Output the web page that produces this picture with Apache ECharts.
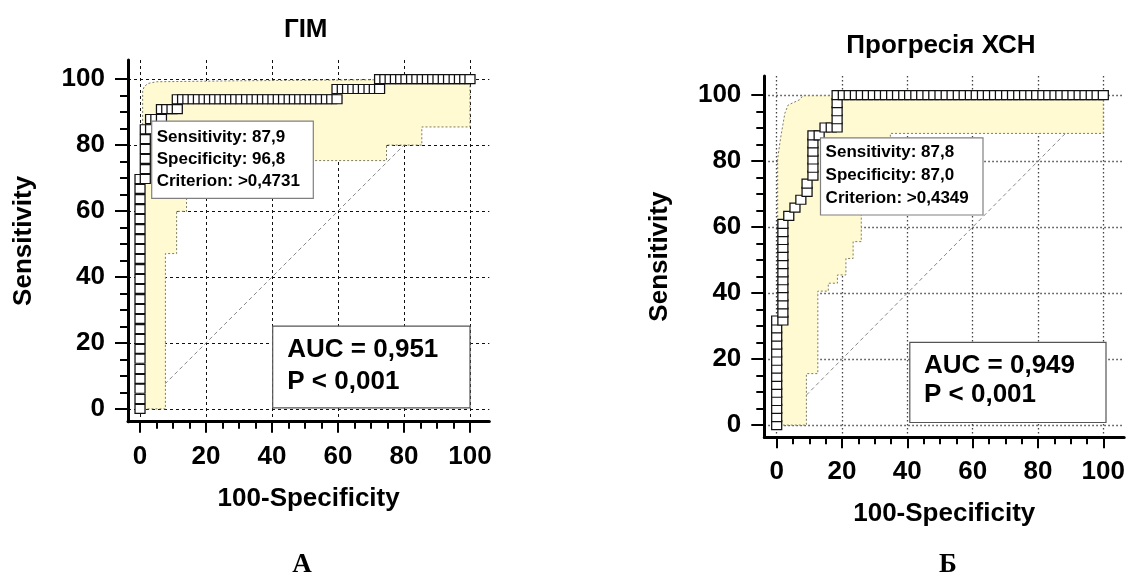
<!DOCTYPE html>
<html>
<head>
<meta charset="utf-8">
<script src="https://cdn.jsdelivr.net/npm/echarts@6/dist/echarts.min.js"></script>
<style>
  html, body { margin: 0; padding: 0; background: #fff; }
  #chart { width: 1128px; height: 576px; }
</style>
</head>
<body>
<div id="chart"></div>
<script>
// DATA

const ticksMajor = [0, 20, 40, 60, 80, 100];
const ticksMinor = [0, 5, 10, 15, 20, 25, 30, 35, 40, 45, 50, 55, 60, 65, 70, 75, 80, 85, 90, 95, 100];
const diagonal = [[0, 0], [100, 100]];

// A: ГІМ  (100-Specificity, Sensitivity)
const rocA = [
  [0,0],[0,3.0],[0,6.1],[0,9.1],[0,12.1],[0,15.2],[0,18.2],[0,21.2],[0,24.2],[0,27.3],[0,30.3],[0,33.3],
  [0,36.4],[0,39.4],[0,42.4],[0,45.5],[0,48.5],[0,51.5],[0,54.5],[0,57.6],[0,60.6],[0,63.6],[0,66.7],[0,69.7],
  [1.6,69.7],[1.6,72.7],[1.6,75.8],[1.6,78.8],[1.6,81.8],[1.6,84.8],
  [3.2,84.8],[3.2,87.9],[4.8,87.9],[6.5,87.9],
  [6.5,90.9],[8.1,90.9],[9.7,90.9],[11.3,90.9],
  [11.3,93.9],[12.9,93.9],[14.5,93.9],[16.1,93.9],[17.7,93.9],[19.4,93.9],[21.0,93.9],[22.6,93.9],[24.2,93.9],
  [25.8,93.9],[27.4,93.9],[29.0,93.9],[30.6,93.9],[32.3,93.9],[33.9,93.9],[35.5,93.9],[37.1,93.9],[38.7,93.9],
  [40.3,93.9],[41.9,93.9],[43.5,93.9],[45.2,93.9],[46.8,93.9],[48.4,93.9],[50.0,93.9],[51.6,93.9],[53.2,93.9],
  [54.8,93.9],[56.5,93.9],[58.1,93.9],[59.7,93.9],
  [59.7,97.0],[61.3,97.0],[62.9,97.0],[64.5,97.0],[66.1,97.0],[67.7,97.0],[69.4,97.0],[71.0,97.0],[72.6,97.0],
  [72.6,100],[74.2,100],[75.8,100],[77.4,100],[79.0,100],[80.6,100],[82.3,100],[83.9,100],[85.5,100],
  [87.1,100],[88.7,100],[90.3,100],[91.9,100],[93.5,100],[95.2,100],[96.8,100],[98.4,100],[100,100]
];
const bandUpperA = [[0.8,0],[0.8,96.5],[1.3,97.8],[2.5,98.7],[5,99.2],[30,99.5],[72,99.8],[100,100]];
const bandLowerA = [[100,85.5],[85.4,85.5],[85.4,80],[74.7,80],[74.7,75.3],[14.1,75.3],[14.1,59.9],
  [11.1,59.9],[11.1,47.1],[7.7,47.1],[7.7,0]];
const infoA = ['Sensitivity: 87,9', 'Specificity: 96,8', 'Criterion: >0,4731'];
const aucA = ['AUC = 0,951', 'P < 0,001'];

// Б: Прогресія ХСН
const rocB = [
  [0,0],[0,2.4],[0,4.9],[0,7.3],[0,9.8],[0,12.2],[0,14.6],[0,17.1],[0,19.5],[0,22.0],[0,24.4],[0,26.8],[0,29.3],[0,31.7],
  [1.9,31.7],[1.9,34.1],[1.9,36.6],[1.9,39.0],[1.9,41.5],[1.9,43.9],[1.9,46.3],[1.9,48.8],[1.9,51.2],[1.9,53.7],
  [1.9,56.1],[1.9,58.5],[1.9,61.0],
  [3.7,63.4],[5.6,65.9],[7.4,68.3],[9.3,70.7],[9.3,73.2],
  [11.1,75.6],[11.1,78.0],[11.1,80.5],[11.1,82.9],[11.1,85.4],[11.1,87.8],
  [13.0,87.8],[14.8,90.2],[16.7,90.2],[18.5,90.2],[18.5,92.7],[18.5,95.1],[18.5,97.6],[18.5,100],
  [20.4,100],[22.2,100],[24.1,100],[25.9,100],[27.8,100],[29.6,100],[31.5,100],[33.3,100],[35.2,100],[37.0,100],
  [38.9,100],[40.7,100],[42.6,100],[44.4,100],[46.3,100],[48.1,100],[50.0,100],[51.9,100],[53.7,100],[55.6,100],
  [57.4,100],[59.3,100],[61.1,100],[63.0,100],[64.8,100],[66.7,100],[68.5,100],[70.4,100],[72.2,100],[74.1,100],
  [75.9,100],[77.8,100],[79.6,100],[81.5,100],[83.3,100],[85.2,100],[87.0,100],[88.9,100],[90.7,100],[92.6,100],
  [94.4,100],[96.3,100],[98.1,100],[100,100]
];
const bandUpperB = [[0.3,0],[0.3,80.8],[1.2,87],[2.5,94.5],[3.5,97],[7,98.6],[8,99.8],[100,100]];
const bandLowerB = [[100,88.4],[34.8,88.4],[34.8,82],[30.5,82],[30.5,72],[27.8,72],[27.8,66],[25.9,66],
  [25.9,55.6],[23.4,55.6],[23.4,50.5],[21.2,50.5],[21.2,45.5],[18.6,45.5],[18.6,43],[15.8,43],[15.8,40.6],
  [12.6,40.6],[12.6,15.6],[9.1,15.6],[9.1,0]];
const infoB = ['Sensitivity: 87,8', 'Specificity: 87,0', 'Criterion: >0,4349'];
const aucB = ['AUC = 0,949', 'P < 0,001'];

const titles = ['ГІМ', 'Прогресія ХСН'];
const panelLetters = ['А', 'Б'];
const xName = '100-Specificity';
const yName = 'Sensitivity';

// CHART

const FONT = '"Liberation Sans", Arial, sans-serif';
const SERIF = '"Liberation Serif", "Times New Roman", serif';

const grids = [
  { left: 128, top: 60, width: 361.3, height: 361.7, xMin: -3.64, xMax: 105.85, yMin: -3.88, yMax: 105.8,
    split: { color: '#111', width: 1, type: [3, 3] } },
  { left: 764.3, top: 76, width: 363.7, height: 361.2, xMin: -3.79, xMax: 106.4, yMin: -3.67, yMax: 105.8,
    split: { color: '#444', width: 1.3, type: [1.5, 2.5] } }
];

var xAxes = [], yAxes = [];
grids.forEach((g, i) => {
  xAxes.push({
    type: 'value', gridIndex: i, position: 'bottom', min: g.xMin, max: g.xMax,
    name: xName, nameLocation: 'middle', nameGap: 64,
    nameTextStyle: { fontFamily: FONT, fontSize: 26, fontWeight: 'bold', color: '#000' },
    axisLine: { show: true, onZero: false, lineStyle: { color: '#000', width: 3 } },
    axisTick: { show: true, customValues: ticksMajor, length: 11, lineStyle: { color: '#000', width: 2 } },
    axisLabel: { customValues: ticksMajor, margin: 22, fontFamily: FONT, fontSize: 26, fontWeight: 'bold', color: '#000' },
    splitLine: { show: true, lineStyle: g.split }
  });
  xAxes.push({
    type: 'value', gridIndex: i, position: 'bottom', min: g.xMin, max: g.xMax,
    axisLine: { show: false, onZero: false },
    axisTick: { show: true, customValues: ticksMinor, length: 7, lineStyle: { color: '#000', width: 2 } },
    axisLabel: { show: false }, splitLine: { show: false }
  });
  yAxes.push({
    type: 'value', gridIndex: i, position: 'left', min: g.yMin, max: g.yMax,
    name: yName, nameLocation: 'middle', nameGap: 91,
    nameTextStyle: { fontFamily: FONT, fontSize: 26, fontWeight: 'bold', color: '#000' },
    axisLine: { show: true, onZero: false, lineStyle: { color: '#000', width: 3 } },
    axisTick: { show: true, customValues: ticksMajor, length: 13, lineStyle: { color: '#000', width: 2 } },
    axisLabel: { customValues: ticksMajor, margin: 23, fontFamily: FONT, fontSize: 26, fontWeight: 'bold', color: '#000' },
    splitLine: { show: true, lineStyle: g.split }
  });
  yAxes.push({
    type: 'value', gridIndex: i, position: 'left', min: g.yMin, max: g.yMax,
    axisLine: { show: false, onZero: false },
    axisTick: { show: true, customValues: ticksMinor, length: 8, lineStyle: { color: '#000', width: 2 } },
    axisLabel: { show: false }, splitLine: { show: false }
  });
});

function diagSeries(i) {
  return {
    type: 'line', xAxisIndex: i * 2, yAxisIndex: i * 2, data: diagonal, z: 1,
    symbol: 'none', silent: true,
    lineStyle: { color: '#888', width: 1, type: [4, 3] }
  };
}

function bandSeries(i, upper, lower) {
  const pts = upper.concat(lower);
  return {
    type: 'custom', xAxisIndex: i * 2, yAxisIndex: i * 2, data: [0], z: 2, silent: true,
    renderItem: function (params, api) {
      return {
        type: 'polygon',
        shape: { points: pts.map(p => api.coord(p)) },
        style: { fill: '#FFFAD2', stroke: '#7d7d66', lineWidth: 1, lineDash: [2, 2] }
      };
    }
  };
}

function rocSeries(i, data) {
  return {
    type: 'line', xAxisIndex: i * 2, yAxisIndex: i * 2, data: data, z: 3,
    symbol: 'rect', symbolSize: [10, 9], showAllSymbol: true,
    itemStyle: { color: '#fff', borderColor: '#111', borderWidth: 1.2 },
    lineStyle: { color: '#111', width: 1 }
  };
}

function textLines(x, yFirst, step, lines, size) {
  return lines.map((t, k) => ({
    type: 'text', x: x, y: yFirst + k * step, z: 11,
    style: { text: t, fontFamily: FONT, fontSize: size, fontWeight: 'bold', fill: '#000', align: 'left', verticalAlign: 'middle' }
  }));
}

function box(x, y, w, h, stroke) {
  return { type: 'rect', x: x, y: y, z: 10, shape: { width: w, height: h },
    style: { fill: '#fff', stroke: stroke, lineWidth: 1.2 } };
}

function centered(x, y, text, size, family) {
  return { type: 'text', x: x, y: y, z: 11,
    style: { text: text, fontFamily: family, fontSize: size, fontWeight: 'bold', fill: '#000', align: 'center', verticalAlign: 'middle' } };
}

const graphics = [].concat(
  [centered(305.7, 29.5, titles[0], 26, FONT), centered(941, 46, titles[1], 26, FONT)],
  [box(151.7, 121.2, 161.6, 77.2, '#808080')], textLines(156.7, 137, 22.4, infoA, 17),
  [box(272.7, 326.2, 197.3, 81.6, '#555')], textLines(287.3, 349.7, 32.3, aucA, 26),
  [box(820.5, 137.8, 162.5, 77.2, '#808080')], textLines(825.6, 152.5, 23, infoB, 17),
  [box(909.8, 342.4, 196.2, 80.1, '#555')], textLines(924, 365.5, 29.5, aucB, 26),
  [centered(302, 565, panelLetters[0], 27, SERIF), centered(948, 565, panelLetters[1], 27, SERIF)]
);

var chart = echarts.init(document.getElementById('chart'));
chart.setOption({
  animation: false,
  backgroundColor: '#fff',
  grid: grids.map(g => ({ left: g.left, top: g.top, width: g.width, height: g.height, containLabel: false })),
  xAxis: xAxes,
  yAxis: yAxes,
  series: [
    diagSeries(0), bandSeries(0, bandUpperA, bandLowerA), rocSeries(0, rocA),
    diagSeries(1), bandSeries(1, bandUpperB, bandLowerB), rocSeries(1, rocB)
  ],
  graphic: graphics
});
</script>
</body>
</html>
